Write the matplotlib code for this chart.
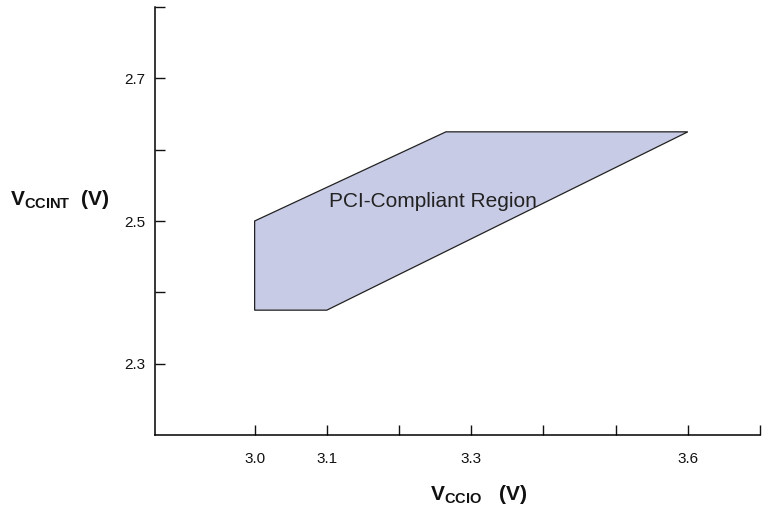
import matplotlib
matplotlib.use("Agg")
import matplotlib.pyplot as plt
from matplotlib.patches import Polygon

plt.rcParams['font.family'] = ['Liberation Sans', 'DejaVu Sans']
plt.rcParams['mathtext.fontset'] = 'custom'
plt.rcParams['mathtext.rm'] = 'Liberation Sans'
plt.rcParams['mathtext.bf'] = 'Liberation Sans:bold'

# Region vertices (VCCIO, VCCINT)
region_x = [3.0, 3.0, 3.1, 3.6, 3.265]
region_y = [2.5, 2.375, 2.375, 2.625, 2.625]
region_label = "PCI-Compliant Region"

x_ticks = [3.0, 3.1, 3.2, 3.3, 3.4, 3.5, 3.6, 3.7]
x_ticklabels = ["3.0", "3.1", "", "3.3", "", "", "3.6", ""]
y_ticks = [2.3, 2.4, 2.5, 2.6, 2.7, 2.8]
y_ticklabels = ["2.3", "", "2.5", "", "2.7", ""]

fig = plt.figure(figsize=(7.63, 5.11), dpi=100)
ax = fig.add_axes([155/763, 76/511, (760-155)/763, (435-7)/511])

poly = Polygon(list(zip(region_x, region_y)), closed=True,
               facecolor='#c8cbe5', edgecolor='#222222', linewidth=0.9)
ax.add_patch(poly)
ax.text(3.247, 2.528, region_label, fontsize=15, color='#222222',
        ha='center', va='center')

ax.set_xlim(2.862, 3.7)
ax.set_ylim(2.2, 2.8)
ax.set_xticks(x_ticks)
ax.set_xticklabels(x_ticklabels)
ax.set_yticks(y_ticks)
ax.set_yticklabels(y_ticklabels)
ax.tick_params(direction='in', length=7, width=1, labelsize=11,
               colors='#111111')
ax.tick_params(axis='x', pad=12)
ax.tick_params(axis='y', pad=7)
for s in ['top', 'right']:
    ax.spines[s].set_visible(False)
for s in ['left', 'bottom']:
    ax.spines[s].set_linewidth(1.1)

fig.text(10/763, 1-205/511, r'$\mathbf{V_{CCINT}}$  (V)', fontsize=15,
         fontweight='bold', ha='left', va='baseline', color='#111111')
fig.text(430/763, 1-500/511, r'$\mathbf{V_{CCIO}}$   (V)', fontsize=15,
         fontweight='bold', ha='left', va='baseline', color='#111111')

fig.savefig("out.png", dpi=100)
